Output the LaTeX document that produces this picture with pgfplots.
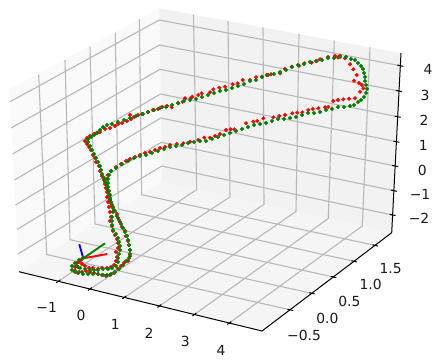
\documentclass[border=0pt]{standalone}
\usepackage{fontspec}
\setmainfont{DejaVu Sans}
\usepackage{pgfplots}
\pgfplotsset{compat=1.18}

\definecolor{paneL}{HTML}{F9F9F9}
\definecolor{paneR}{HTML}{F2F2F2}
\definecolor{paneF}{HTML}{F5F5F5}
\definecolor{gridc}{HTML}{B8B8B8}
\definecolor{mplgreen}{HTML}{008000}
\tikzset{tl/.style={font=\fontsize{13.9}{16}\selectfont, text=black!90, inner sep=0pt, anchor=center}}

\begin{document}
\begin{tikzpicture}
% the 3D box is perspective, so everything is placed on the projected (image) plane
\begin{axis}[
    scale only axis,
    width=441pt, height=359pt,
    xmin=0, xmax=441, ymin=0, ymax=359,
    y dir=reverse,
    hide axis,
    clip=false,
    unbounded coords=jump,
]
% keep the whole canvas in the page
\path (axis cs:0,0) (axis cs:441,359);
% panes
\addplot[fill=paneL, draw=none] coordinates {(9.3,89.3) (159.3,8.3) (162,182) (19,271.7)};
\addplot[fill=paneR, draw=none] coordinates {(159.3,8.3) (401,53) (391.7,232.7) (162,182)};
\addplot[fill=paneF, draw=none] coordinates {(19,271.7) (162,182) (391.7,232.7) (262,331)};

% grid, x lines
\addplot[gridc, line width=1.1pt] coordinates {
    (58.3,281.3) (196.7,189.6) (193.5,14.5) (nan,nan)
    (90,289) (230,196.9) (228,21) (nan,nan)
    (124.3,297.4) (264,204.4) (263,27.5) (nan,nan)
    (159.3,306) (296,211.4) (299,34) (nan,nan)
    (194.3,314.5) (328.3,218.5) (334.3,40.7) (nan,nan)
    (229.3,323) (362.3,226) (370,47.3)
};
% grid, y lines
\addplot[gridc, line width=1.1pt] coordinates {
    (290,309.8) (46.7,254.5) (38.7,74.7) (nan,nan)
    (311.7,293.3) (70,239.7) (65,60) (nan,nan)
    (333.3,277) (95,224) (90,46.7) (nan,nan)
    (354,261.3) (118.3,209) (115.3,32.7) (nan,nan)
    (375,245.4) (141.7,194.7) (139.3,19.3)
};
% grid, z lines
\addplot[gridc, line width=1.1pt] coordinates {
    (10,101.7) (159.3,20) (400.3,65.7) (nan,nan)
    (11,128) (159.6,45) (399,91) (nan,nan)
    (12.5,154) (160,69.3) (397.7,116.7) (nan,nan)
    (14.5,180) (160.5,94) (396.4,141.7) (nan,nan)
    (15.5,205) (160.8,118) (395.2,166) (nan,nan)
    (17,229.5) (161.2,142.3) (394,190.7) (nan,nan)
    (18,254) (161.7,166) (392.6,215)
};

% axis lines
\addplot[black, line width=1pt] coordinates {(19,271.7) (262,331) (391.7,232.7) (401,53)};
% tick marks
\addplot[black, line width=1pt] coordinates {
    (56.3,282.7) (60.3,279.9) (nan,nan)
    (88,290.4) (92,287.6) (nan,nan)
    (122.3,298.8) (126.3,296) (nan,nan)
    (157.3,307.4) (161.3,304.6) (nan,nan)
    (192.3,315.9) (196.3,313.1) (nan,nan)
    (227.3,324.4) (231.3,321.6) (nan,nan)
    (293,310.5) (287.5,309.2) (nan,nan)
    (314.7,294) (309.2,292.7) (nan,nan)
    (336.3,277.7) (330.8,276.4) (nan,nan)
    (357,262) (351.5,260.7) (nan,nan)
    (378,246.1) (372.5,244.8) (nan,nan)
    (403.3,66.3) (397.3,65.1) (nan,nan)
    (402,91.6) (396,90.4) (nan,nan)
    (400.7,117.3) (394.7,116.1) (nan,nan)
    (399.4,142.3) (393.4,141.1) (nan,nan)
    (398.2,166.6) (392.2,165.4) (nan,nan)
    (397,191.3) (391,190.1) (nan,nan)
    (395.6,215.6) (389.6,214.4)
};

% estimated trajectory
\addplot[only marks, mark=*, mark size=1.8pt, color=red, mark options={draw=none, fill=red}] coordinates {
    (81,260)(77,263)(75,267)(75,271)(78,273)(82,272)(86,271)(90,272)(94,273)(98,274)(102,275)(106,276)(110,275)(114,273)(118,269)(121,266)(124,263)(128,261)(130,256)(130,250)
    (129,245)(128,241)(126,236)(125,231)(122,227)(120,222)(118,218)(117,214)(114,210)(112,205)(110,200)(109,196)(108,192)(106,188)(105,184)(104,180)(102,176)(100,171)(99,166)(96,162)
    (95,158)(93,155)(91,150)(89,147)(87,144)(85,141)(87,138)(90,136)(94,134)(97,133)(100,132)(105,129)(110,128)(115,126)(118,124)(122,123)(127,121)(130,115)(131,119)(134,117)
    (138,115)(143,114)(148,112)(153,110)(158,109)(162,107)(167,106)
    (171.7,107.3)(178.3,103.3)(182.7,101.7)(185,98.3)(190.7,98.3)(192.3,96.7)(198.3,95)(201.7,93.3)(210,92.3)(213.3,89.3)(219.3,87.7)(225,86.7)(232.7,84.3)(237.7,83.3)(242.7,80)(250,80)(256,77.3)(261.7,76.7)(266.7,75)(271,74.3)(280,73.3)(285,69)(291.7,66.7)(299,65.7)(304.3,63.3)(311.7,62.7)(316.7,61)
    (320,59.3)(328,57)(335,56)(338,57.5)(340,55.7)(345,58.3)(350,64.3)(353.3,69.3)(356.7,75)(354,80.7)(359,83)(361.7,85)(363.3,88.3)(360,91.7)(355,98.3)(349,98.7)(343.3,99.3)(338,100)(333.3,101)
    (328.3,107)(325,107.3)(318.3,108.3)(312.7,109)(308.3,110)(302.3,112.3)(297.3,112.7)(292.3,113.3)(285,115)(279.3,116)(273.3,117.3)(263.3,118.3)(257.3,121)(253.3,121.7)(246,123.3)(234.3,129.3)(230.7,129.3)(226,130)(220,134)(215,136)(210,137.7)(204.3,137.7)(198.3,140)(190,141.7)(183.3,143.3)(176.7,144)(170,145)
    (165,147)(160,148)(155,150)(150,152)(145,153)(140,155)(135,157)(130,159)(126,161)(121,164)(116,167)(111,171)(108,175)(107,179)(106,184)(106,188)(107,192)(107,197)(108,202)(109,207)(110,212)(111,217)(110,221)(112,226)(113,231)
    (115,235)(117,239)(118,243)(118,248)(116,252)(117,257)(116,261)(114,265)(111,267)(107,268)(102,268)(98,269)(93,268)(89,268)(85,266)(82,264)(78,267)(79,262)
};
\addplot[only marks, mark=*, mark size=1.8pt, color=mplgreen, mark options={draw=none, fill=mplgreen}] coordinates {
    (83,258)(79,260)(75,263)(72,266)(72,270)(75,272)(79,272)(83,274)(88,274)(93,274)(98,274)(103,275)(107,275)(111,274)(115,272)(119,269)(123,265)(126,261)(129,258)(130,254)
    (130,250)(129,245)(128,240)(127,236)(125,232)(123,228)(121,224)(119,220)(117,216)(115,211)(113,207)(111,202)(110,198)(109,194)(108,190)(107,186)(105,182)(104,178)(102,174)(101,170)
    (100,166)(98,162)(96,158)(94,154)(92,150)(90,146)(88,142)(88,139)(91,137)(94,135)(97,133)(100,130)(103,127)(107,125)(112,124)(118,122)(124,120)(130,118)(136,116)
    (142,114)(148,112)(154,110)(160,108)(166,107)(172,105)(178,103)(184,101)(190,100)(196,99)(202,97)(208,95)(214,93)(220,91)(226,90)(232,88)
    (238,86)(244,84)(250,81)(256,80)(262,77)(268,75)(274,74)(280,72)(286,70)(292,67)(298,65)(304,64)(310,62)(316,61)(322,60)(328,58)(334,58)
    (340,57)(346,57)(351,59)(355,60)(358,63)(361,66)(363,69)(364,73)(365,77)(365,81)(366,85)(367,89)(366,93)(364,97)(361,100)(358,102)(354,105)(350,106)(344,107)(338,107)
    (332,109)(326,110)(320,112)(314,113)(308,113)(302,115)(296,117)(290,118)(284,119)(278,119)(272,121)(266,123)(260,124)(254,125)(248,127)(242,129)
    (236,131)(230,133)(224,135)(218,137)(212,139)(206,141)(200,141)(194,142)(188,143)(182,145)(176,146)(170,147)(164,149)(158,151)(152,153)(146,155)(140,156)
    (134,158)(128,161)(122,164)(116,168)(111,171)(109,175)(108,179)(108,183)(108,187)(109,191)(110,195)(110,199)(111,203)(113,208)(113,212)(112,217)(112,221)(112,225)(113,230)
    (116,234)(118,238)(119,242)(120,246)(120,250)(119,254)(118,258)(118,262)(116,266)(112,268)(108,269)(103,269)(98,270)(94,270)(90,270)(85,269)(80,268)(77,266)
};

% start pose triad
\addplot[red, line width=1.9pt] coordinates {(83.3,258.3) (107.3,254)};
\addplot[mplgreen, line width=1.9pt] coordinates {(83.3,258.3) (105,243.3)};
\addplot[blue, line width=1.9pt] coordinates {(83.3,258.3) (79.3,244.3)};

% tick labels
\node[tl] at (axis cs:46.7,307.7) {−1};
\node[tl] at (axis cs:81,315.7) {0};
\node[tl] at (axis cs:115.3,324.7) {1};
\node[tl] at (axis cs:149,333.3) {2};
\node[tl] at (axis cs:185.3,341) {3};
\node[tl] at (axis cs:221,350) {4};
\node[tl] at (axis cs:304,335.7) {−0.5};
\node[tl] at (axis cs:327.3,318.3) {0.0};
\node[tl] at (axis cs:349.3,301.7) {0.5};
\node[tl] at (axis cs:370.7,284.3) {1.0};
\node[tl] at (axis cs:390.7,268.3) {1.5};
\node[tl] at (axis cs:428,69.3) {4};
\node[tl] at (axis cs:425,95.3) {3};
\node[tl] at (axis cs:424,120) {2};
\node[tl] at (axis cs:423.3,145) {1};
\node[tl] at (axis cs:422.3,170.7) {0};
\node[tl] at (axis cs:420,194.3) {−1};
\node[tl] at (axis cs:419,218.7) {−2};
\end{axis}
\end{tikzpicture}
\end{document}
